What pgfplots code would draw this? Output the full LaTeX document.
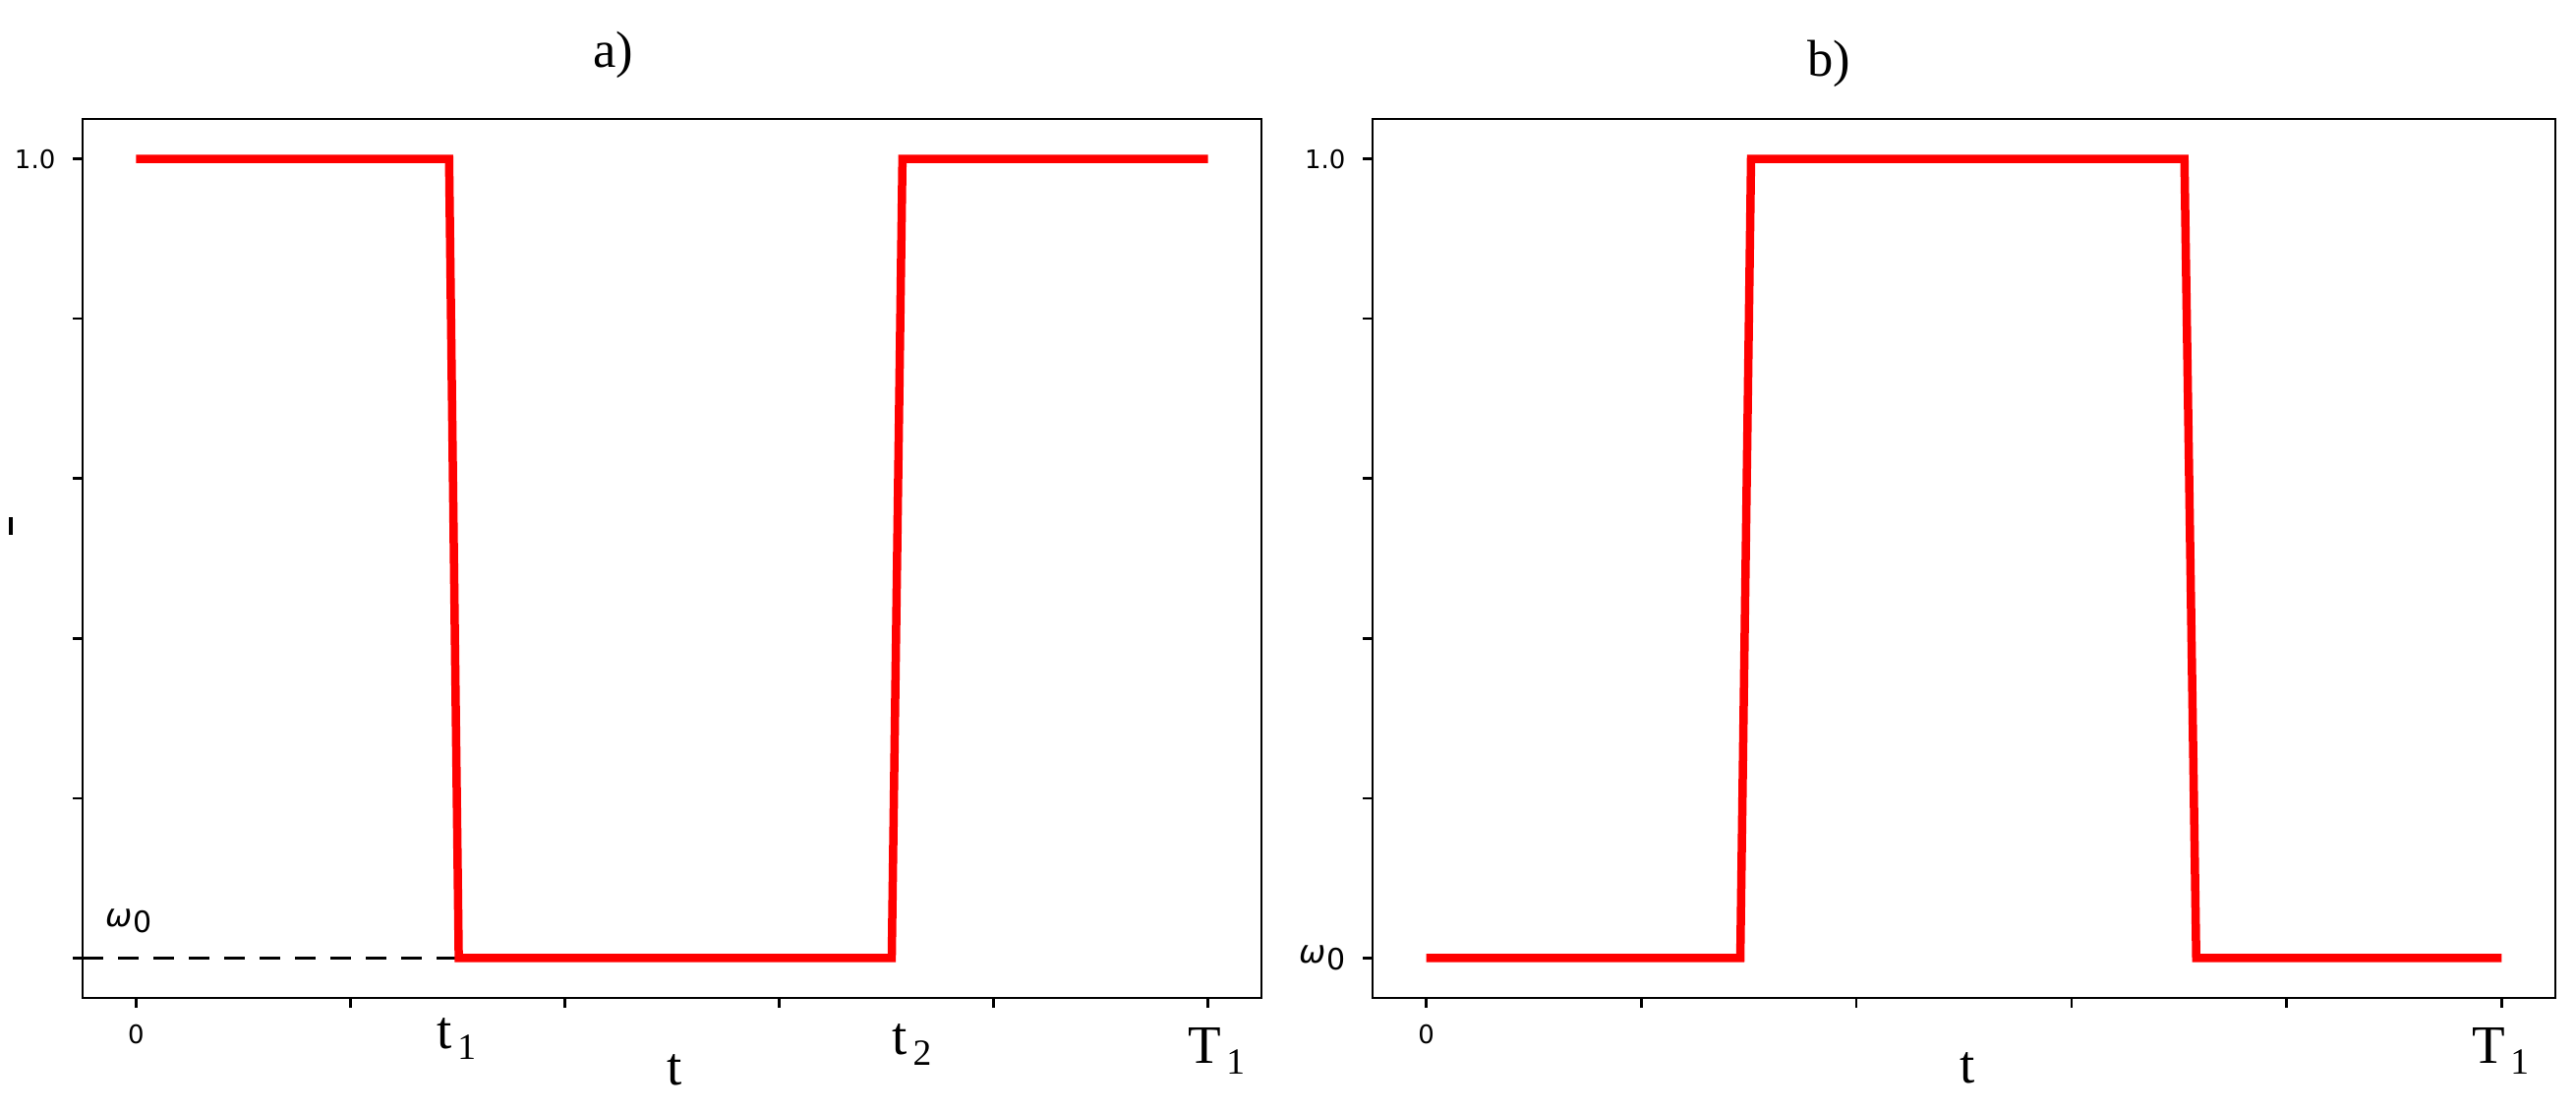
\documentclass[border=0pt]{standalone}
\usepackage{fontspec}
\setmainfont{Liberation Serif}
\newfontfamily\dv{DejaVu Sans}
\usepackage{pgfplots}
\pgfplotsset{compat=1.18}

\newcommand{\lab}[2]{#1\kern1.1pt\raisebox{-2.2pt}{\fontsize{7.5}{8}\selectfont #2}}
\newcommand{\om}{{\dv\fontsize{6.5}{7}\selectfont\itshape ω\kern0.2pt\raisebox{-0.35ex}{\upshape\fontsize{6}{7}\selectfont 0}}}

\tikzset{
  sig/.style={red, line width=1.7pt, line join=miter},
  big/.style={font=\fontsize{11}{13}\selectfont, inner sep=0pt},
}
\pgfplotsset{
  panel/.style={
    scale only axis, height=178.8pt,
    xmin=-0.05, xmax=1.05, ymin=-0.05, ymax=1.05,
    xtick={0,0.2,0.4,0.6,0.8,1}, xticklabels={0,,,,,},
    ytick={0,0.2,0.4,0.6,0.8,1},
    xtick pos=bottom, ytick pos=left, tick align=outside,
    major tick length=2pt,
    tick style={black, line width=0.5pt},
    axis line style={line width=0.5pt},
    tick label style={font=\dv\fontsize{5.2}{6}\selectfont},
    clip=false,
  },
}

\begin{document}
\begin{tikzpicture}
\path[use as bounding box] (0,0) rectangle (524pt,225.8pt);

\begin{axis}[panel, width=239.8pt, at={(16.8pt,22.8pt)}, anchor=south west,
  yticklabels={,,,,,1.0}]
\addplot[black, line width=0.6pt, dash pattern=on 4.2pt off 3pt] coordinates {(-0.05,0) (0.301,0)};
\addplot[sig] coordinates {(0,1) (0.292,1) (0.301,0) (0.705,0) (0.715,1) (1,1)};
\node at (axis cs:-0.007,0.046) {\om};
\node[font=\fontsize{10.5}{12}\selectfont] at (rel axis cs:0.45,1.073) {a)};
\node[big] at (axis cs:0.299,-0.101) {\lab{t}{1}};
\node[big] at (axis cs:0.502,-0.140) {t};
\node[big] at (axis cs:0.724,-0.108) {\lab{t}{2}};
\node[big] at (axis cs:1.008,-0.116) {\lab{T}{1}};
\node[inner sep=0pt] at (rel axis cs:-0.061,0.537) {\rule{0.8pt}{3.5pt}};
\end{axis}

\begin{axis}[panel, width=240.6pt, at={(279.2pt,22.8pt)}, anchor=south west,
  yticklabels={\om,,,,,1.0}]
\addplot[sig] coordinates {(0,0) (0.292,0) (0.302,1) (0.705,1) (0.716,0) (1,0)};
\node[font=\fontsize{10.5}{12}\selectfont] at (rel axis cs:0.386,1.063) {b)};
\node[big] at (axis cs:0.503,-0.138) {t};
\node[big] at (axis cs:0.999,-0.116) {\lab{T}{1}};
\end{axis}
\end{tikzpicture}
\end{document}
